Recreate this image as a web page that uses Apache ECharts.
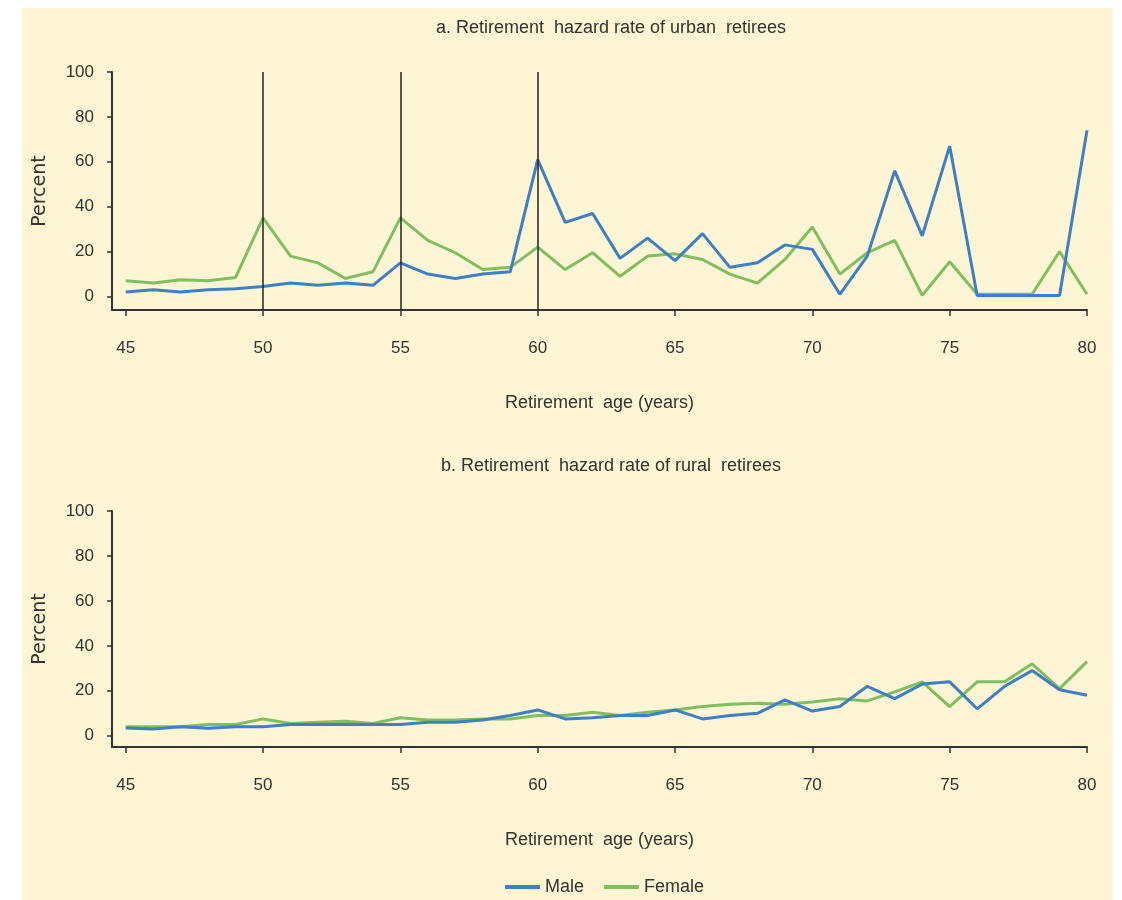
<!DOCTYPE html>
<html>
<head>
<meta charset="utf-8">
<script src="https://cdn.jsdelivr.net/npm/echarts@6/dist/echarts.min.js"></script>
<style>
  body { margin: 0; background: #ffffff; }
  #bg { position: absolute; left: 22px; top: 8px; width: 1091px; height: 892px; background: #fdf5d4; }
  #chart { position: absolute; left: 0; top: 0; width: 1122px; height: 900px; }
</style>
</head>
<body>
<div id="bg"></div>
<div id="chart"></div>
<script>
// retirement ages (x)
const ages = [45, 46, 47, 48, 49, 50, 51, 52, 53, 54, 55, 56, 57, 58, 59, 60, 61, 62,
  63, 64, 65, 66, 67, 68, 69, 70, 71, 72, 73, 74, 75, 76, 77, 78, 79, 80];

// a. urban retirees (percent)
const urbanMale = [2, 3, 2, 3, 3.5, 4.5, 6, 5, 6, 5, 15, 10, 8, 10, 11, 61, 33, 37,
  17, 26, 16, 28, 13, 15, 23, 21, 1, 18, 56, 27, 67, 0.5, 0.5, 0.5, 0.5, 74];
const urbanFemale = [7, 6, 7.5, 7, 8.5, 35, 18, 15, 8, 11, 35, 25, 19.5, 12, 13, 22, 12, 19.5,
  9, 18, 19, 16.5, 10, 6, 16.5, 31, 10, 19.5, 25, 0.5, 15.5, 1, 1, 1, 20, 1];

// b. rural retirees (percent)
const ruralMale = [3.5, 3, 4, 3.3, 4, 4, 5, 5, 5, 5, 5, 6, 6, 7, 9, 11.5, 7.5, 8,
  9, 9, 11.5, 7.5, 9, 10, 16, 11, 13, 22, 16.5, 23, 24, 12, 22, 29, 20.5, 18];
const ruralFemale = [4, 4, 4, 5, 5, 7.5, 5.5, 6, 6.5, 5.5, 8, 7, 7, 7.5, 7.5, 9, 9, 10.5,
  9, 10.5, 11.5, 13, 14, 14.5, 14, 15, 16.5, 15.5, 19.5, 24, 13, 24, 24, 32, 21, 33];

const xTicks = [45, 50, 55, 60, 65, 70, 75, 80];
const yTicks = [0, 20, 40, 60, 80, 100];
const refAges = [50, 55, 60];   // vertical lines in panel a

const font = "'Liberation Sans', sans-serif";
const textColor = '#333';
const blue = '#3d80c6';
const green = '#7fbf62';

const pair = (xs, ys) => xs.map((x, i) => [x, ys[i]]);

const axisLine = { show: true, onZero: false, lineStyle: { color: '#333', width: 2 } };

const makeX = (gridIndex) => ({
  type: 'value', gridIndex, min: 44.5, max: 80,
  name: 'Retirement  age (years)', nameLocation: 'middle', nameGap: 84,
  nameTextStyle: { fontFamily: font, fontSize: 18, color: textColor },
  axisLine,
  axisTick: { show: true, customValues: xTicks, length: 6, lineStyle: { color: '#333', width: 1.5 } },
  axisLabel: { customValues: xTicks, margin: 30, fontFamily: font, fontSize: 17, color: textColor },
  splitLine: { show: false }
});

const makeY = (gridIndex, min) => ({
  type: 'value', gridIndex, min, max: 100,
  name: 'Percent', nameLocation: 'middle', nameGap: 62, nameRotate: 90,
  nameTextStyle: { fontFamily: 'DejaVu Sans', fontSize: 19, color: textColor },
  axisLine,
  axisTick: { show: true, customValues: yTicks, length: 5, lineStyle: { color: '#333', width: 1.5 } },
  axisLabel: { customValues: yTicks, margin: 18, fontFamily: font, fontSize: 17, color: textColor },
  splitLine: { show: false }
});

const line = (name, data, color, idx, extra) => Object.assign({
  name, type: 'line', xAxisIndex: idx, yAxisIndex: idx,
  data, showSymbol: false, symbol: 'none',
  lineStyle: { color, width: 3 }, itemStyle: { color }
}, extra || {});

const option = {
  animation: false,
  title: [
    { text: 'a. Retirement  hazard rate of urban  retirees', left: 606, top: 14, textAlign: 'center',
      textStyle: { fontFamily: font, fontSize: 18, fontWeight: 'normal', color: textColor } },
    { text: 'b. Retirement  hazard rate of rural  retirees', left: 606, top: 452, textAlign: 'center',
      textStyle: { fontFamily: font, fontSize: 18, fontWeight: 'normal', color: textColor } }
  ],
  legend: {
    data: ['Male', 'Female'], left: 500, top: 873, icon: 'rect',
    itemWidth: 35, itemHeight: 4, itemGap: 20,
    textStyle: { fontFamily: font, fontSize: 18, color: textColor }
  },
  grid: [
    { left: 112, right: 35, top: 72, height: 238 },
    { left: 112, right: 35, top: 511, height: 236 }
  ],
  xAxis: [makeX(0), makeX(1)],
  yAxis: [makeY(0, -6), makeY(1, -5)],
  series: [
    line('Female', pair(ages, urbanFemale), green, 0),
    line('Male', pair(ages, urbanMale), blue, 0, {
      markLine: {
        silent: true, symbol: 'none', label: { show: false },
        lineStyle: { color: '#222', width: 1.5, type: 'solid' },
        data: refAges.map(a => ({ xAxis: a }))
      }
    }),
    line('Female', pair(ages, ruralFemale), green, 1),
    line('Male', pair(ages, ruralMale), blue, 1)
  ]
};

const myChart = echarts.init(document.getElementById('chart'));
myChart.setOption(option);
</script>
</body>
</html>
